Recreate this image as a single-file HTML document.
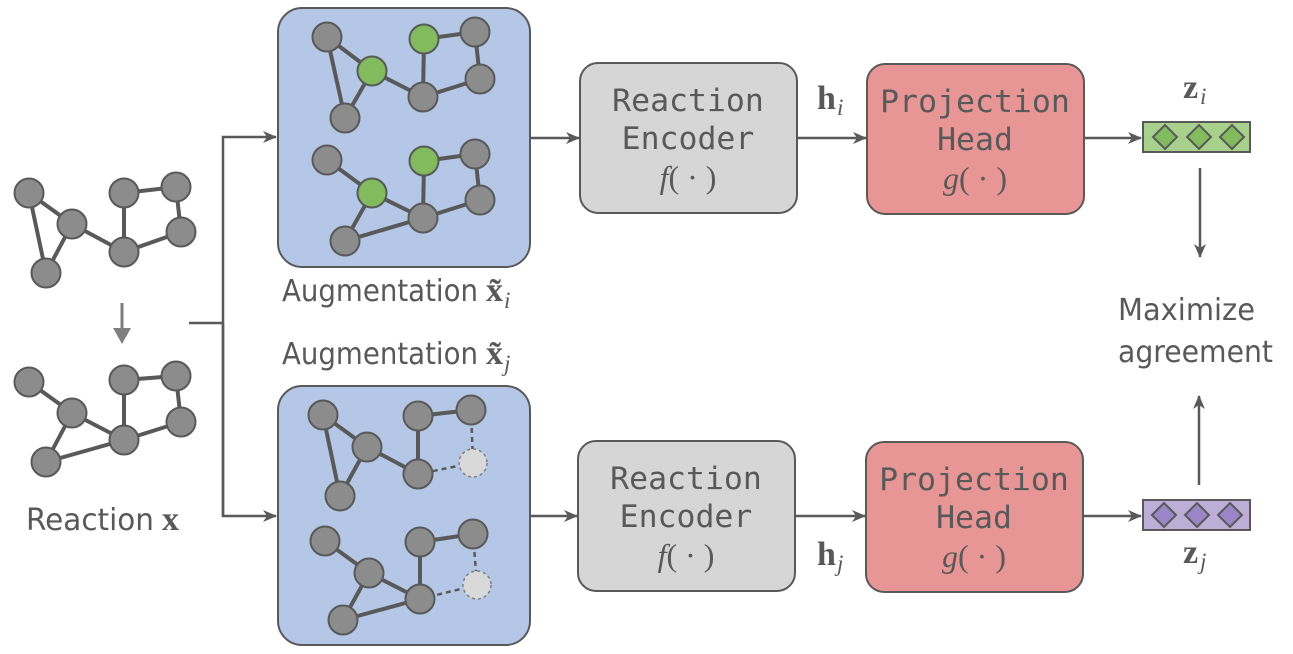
<!DOCTYPE html>
<html><head><meta charset="utf-8"><style>
html,body{margin:0;padding:0;background:#fff;}
svg{display:block;}
.lbl{font-family:"DejaVu Sans","Liberation Sans",sans-serif;fill:#595959;font-size:30px;}
.mono{font-family:"DejaVu Sans Mono","Liberation Mono",monospace;fill:#595959;font-size:31.5px;text-anchor:middle;}
.math{font-family:"Liberation Serif",serif;fill:#595959;}
.e{stroke:#595959;stroke-width:4;fill:none;}
.d{stroke:#595959;stroke-width:2.5;fill:none;stroke-dasharray:5 4;}
.n{fill:#8c8c8c;stroke:#595959;stroke-width:2;}
.g{fill:#82bb5e;stroke:#595959;stroke-width:2;}
.x{fill:#d9d9d9;stroke:#7f7f7f;stroke-width:1.5;stroke-dasharray:3 3;}
.ar{stroke:#595959;stroke-width:2.5;fill:none;}
</style></head><body>
<svg width="1293" height="654" viewBox="0 0 1293 654" xmlns="http://www.w3.org/2000/svg">
<defs><marker id="ah" markerWidth="14" markerHeight="12" refX="13" refY="6" orient="auto" markerUnits="userSpaceOnUse"><path d="M0,0 L14,6 L0,12 L4,6 Z" fill="#595959"/></marker></defs>

<g class="e">
<line x1="29" y1="193" x2="72" y2="224"/><line x1="29" y1="193" x2="46" y2="273"/><line x1="72" y1="224" x2="46" y2="273"/>
<line x1="72" y1="224" x2="124" y2="252"/><line x1="124" y1="193" x2="124" y2="252"/><line x1="124" y1="193" x2="176" y2="187"/>
<line x1="176" y1="187" x2="181" y2="232"/><line x1="181" y1="232" x2="124" y2="252"/>
</g>
<g class="n"><circle cx="29" cy="193" r="14.5"/><circle cx="72" cy="224" r="14.5"/><circle cx="46" cy="273" r="14.5"/><circle cx="124" cy="193" r="14.5"/><circle cx="176" cy="187" r="14.5"/><circle cx="124" cy="252" r="14.5"/><circle cx="181" cy="232" r="14.5"/></g>

<line x1="122" y1="303" x2="122" y2="330" stroke="#7f7f7f" stroke-width="3"/>
<path d="M113,328 L131,328 L122,344 Z" fill="#7f7f7f"/>

<g class="e">
<line x1="29" y1="382" x2="72" y2="413"/><line x1="72" y1="413" x2="46" y2="462"/><line x1="46" y1="462" x2="124" y2="440"/>
<line x1="72" y1="413" x2="124" y2="440"/><line x1="124" y1="380" x2="124" y2="440"/><line x1="124" y1="380" x2="176" y2="376"/>
<line x1="176" y1="376" x2="181" y2="422"/><line x1="181" y1="422" x2="124" y2="440"/>
</g>
<g class="n"><circle cx="29" cy="382" r="14.5"/><circle cx="72" cy="413" r="14.5"/><circle cx="46" cy="462" r="14.5"/><circle cx="124" cy="380" r="14.5"/><circle cx="176" cy="376" r="14.5"/><circle cx="181" cy="422" r="14.5"/><circle cx="124" cy="440" r="14.5"/></g>

<text class="lbl" x="26" y="530" textLength="128" lengthAdjust="spacingAndGlyphs">Reaction</text>
<text class="math" x="162" y="530" font-size="34" font-weight="bold">x</text>

<polyline class="ar" points="189,323 223,323"/>
<polyline class="ar" points="223,516 223,137 276,137" marker-end="url(#ah)"/>
<polyline class="ar" points="223,323 223,516 276,516" marker-end="url(#ah)"/>

<rect x="278" y="8" width="252" height="259" rx="24" fill="#b4c7e7" stroke="#595959" stroke-width="2"/>
<g class="e">
<line x1="327" y1="37" x2="372" y2="71"/><line x1="327" y1="37" x2="345" y2="118"/><line x1="372" y1="71" x2="345" y2="118"/>
<line x1="372" y1="71" x2="423" y2="97"/><line x1="424" y1="39" x2="423" y2="97"/><line x1="424" y1="39" x2="475" y2="32"/>
<line x1="475" y1="32" x2="480" y2="79"/><line x1="480" y1="79" x2="423" y2="97"/>
<line x1="327" y1="160" x2="372" y2="193"/><line x1="372" y1="193" x2="345" y2="241"/><line x1="345" y1="241" x2="423" y2="218"/>
<line x1="372" y1="193" x2="423" y2="218"/><line x1="424" y1="161" x2="423" y2="218"/><line x1="424" y1="161" x2="475" y2="154"/>
<line x1="475" y1="154" x2="480" y2="200"/><line x1="480" y1="200" x2="423" y2="218"/>
</g>
<g class="n"><circle cx="327" cy="37" r="14.5"/><circle cx="345" cy="118" r="14.5"/><circle cx="475" cy="32" r="14.5"/><circle cx="480" cy="79" r="14.5"/><circle cx="423" cy="97" r="14.5"/>
<circle cx="327" cy="160" r="14.5"/><circle cx="345" cy="241" r="14.5"/><circle cx="475" cy="154" r="14.5"/><circle cx="480" cy="200" r="14.5"/><circle cx="423" cy="218" r="14.5"/></g>
<g class="g"><circle cx="372" cy="71" r="14.5"/><circle cx="424" cy="39" r="14.5"/><circle cx="372" cy="193" r="14.5"/><circle cx="424" cy="161" r="14.5"/></g>

<text class="lbl" x="282" y="301" textLength="196" lengthAdjust="spacingAndGlyphs">Augmentation</text>
<text class="math" x="486" y="301" font-size="34" font-weight="bold">x̃</text>
<text class="math" x="504" y="308" font-size="23" font-style="italic">i</text>

<text class="lbl" x="282" y="364" textLength="196" lengthAdjust="spacingAndGlyphs">Augmentation</text>
<text class="math" x="486" y="364" font-size="34" font-weight="bold">x̃</text>
<text class="math" x="504" y="371" font-size="23" font-style="italic">j</text>

<rect x="278" y="386" width="252" height="259" rx="24" fill="#b4c7e7" stroke="#595959" stroke-width="2"/>
<g class="e">
<line x1="323" y1="415" x2="367" y2="447"/><line x1="323" y1="415" x2="340" y2="496"/><line x1="367" y1="447" x2="340" y2="496"/>
<line x1="367" y1="447" x2="418" y2="474"/><line x1="418" y1="416" x2="418" y2="474"/><line x1="418" y1="416" x2="471" y2="410"/>
<line x1="325" y1="541" x2="369" y2="573"/><line x1="369" y1="573" x2="343" y2="620"/><line x1="343" y1="620" x2="420" y2="599"/>
<line x1="369" y1="573" x2="420" y2="599"/><line x1="420" y1="542" x2="420" y2="599"/><line x1="420" y1="542" x2="473" y2="534"/>
</g>
<g class="d">
<line x1="471" y1="410" x2="473" y2="463"/><line x1="473" y1="463" x2="418" y2="474"/>
<line x1="473" y1="534" x2="477" y2="585"/><line x1="477" y1="585" x2="420" y2="599"/>
</g>
<g class="n"><circle cx="323" cy="415" r="14.5"/><circle cx="367" cy="447" r="14.5"/><circle cx="340" cy="496" r="14.5"/><circle cx="418" cy="416" r="14.5"/><circle cx="471" cy="410" r="14.5"/><circle cx="418" cy="474" r="14.5"/>
<circle cx="325" cy="541" r="14.5"/><circle cx="369" cy="573" r="14.5"/><circle cx="343" cy="620" r="14.5"/><circle cx="420" cy="542" r="14.5"/><circle cx="473" cy="534" r="14.5"/><circle cx="420" cy="599" r="14.5"/></g>
<g class="x"><circle cx="473" cy="463" r="14"/><circle cx="477" cy="585" r="14"/></g>

<line class="ar" x1="530" y1="138" x2="579" y2="138" marker-end="url(#ah)"/>
<line class="ar" x1="530" y1="516" x2="577" y2="516" marker-end="url(#ah)"/>

<rect x="580" y="63" width="217" height="150" rx="18" fill="#d6d6d6" stroke="#595959" stroke-width="2"/>
<text class="mono" x="688" y="111">Reaction</text>
<text class="mono" x="688" y="149">Encoder</text>
<text class="math" x="688" y="188" font-size="32" text-anchor="middle"><tspan font-style="italic">f</tspan>( · )</text>

<rect x="578" y="441" width="217" height="150" rx="18" fill="#d6d6d6" stroke="#595959" stroke-width="2"/>
<text class="mono" x="686" y="489">Reaction</text>
<text class="mono" x="686" y="527">Encoder</text>
<text class="math" x="686" y="566" font-size="32" text-anchor="middle"><tspan font-style="italic">f</tspan>( · )</text>

<text class="math" x="817" y="109" font-size="34" font-weight="bold">h</text>
<text class="math" x="837" y="115" font-size="23" font-style="italic">i</text>
<line class="ar" x1="797" y1="138" x2="866" y2="138" marker-end="url(#ah)"/>
<text class="math" x="817" y="565" font-size="34" font-weight="bold">h</text>
<text class="math" x="837" y="571" font-size="23" font-style="italic">j</text>
<line class="ar" x1="795" y1="516" x2="865" y2="516" marker-end="url(#ah)"/>

<rect x="867" y="64" width="217" height="150" rx="18" fill="#e89595" stroke="#595959" stroke-width="2"/>
<text class="mono" x="975" y="112">Projection</text>
<text class="mono" x="975" y="150">Head</text>
<text class="math" x="975" y="189" font-size="32" text-anchor="middle"><tspan font-style="italic">g</tspan>( · )</text>

<rect x="866" y="442" width="217" height="150" rx="18" fill="#e89595" stroke="#595959" stroke-width="2"/>
<text class="mono" x="974" y="490">Projection</text>
<text class="mono" x="974" y="528">Head</text>
<text class="math" x="974" y="567" font-size="32" text-anchor="middle"><tspan font-style="italic">g</tspan>( · )</text>

<line class="ar" x1="1084" y1="138" x2="1141" y2="138" marker-end="url(#ah)"/>
<line class="ar" x1="1083" y1="516" x2="1141" y2="516" marker-end="url(#ah)"/>

<rect x="1143" y="122" width="107" height="30" fill="#a9d18e" stroke="#595959" stroke-width="2"/>
<g fill="#82bb5e" stroke="#595959" stroke-width="2">
<path d="M1165,125 L1177,137 L1165,149 L1153,137 Z"/><path d="M1199,125 L1211,137 L1199,149 L1187,137 Z"/><path d="M1232,125 L1244,137 L1232,149 L1220,137 Z"/>
</g>
<rect x="1143" y="500" width="107" height="30" fill="#bcaed6" stroke="#595959" stroke-width="2"/>
<g fill="#9b84c8" stroke="#595959" stroke-width="2">
<path d="M1164,503 L1176,515 L1164,527 L1152,515 Z"/><path d="M1197,503 L1209,515 L1197,527 L1185,515 Z"/><path d="M1230,503 L1242,515 L1230,527 L1218,515 Z"/>
</g>
<text class="math" x="1183" y="98" font-size="34" font-weight="bold">z</text>
<text class="math" x="1200" y="104" font-size="23" font-style="italic">i</text>
<text class="math" x="1183" y="563" font-size="34" font-weight="bold">z</text>
<text class="math" x="1200" y="569" font-size="23" font-style="italic">j</text>

<line class="ar" x1="1200" y1="168" x2="1200" y2="257" marker-end="url(#ah)"/>
<line class="ar" x1="1199" y1="485" x2="1199" y2="396" marker-end="url(#ah)"/>

<text class="lbl" x="1118" y="320" textLength="137" lengthAdjust="spacingAndGlyphs">Maximize</text>
<text class="lbl" x="1118" y="362" textLength="155" lengthAdjust="spacingAndGlyphs">agreement</text>
</svg>
</body></html>
